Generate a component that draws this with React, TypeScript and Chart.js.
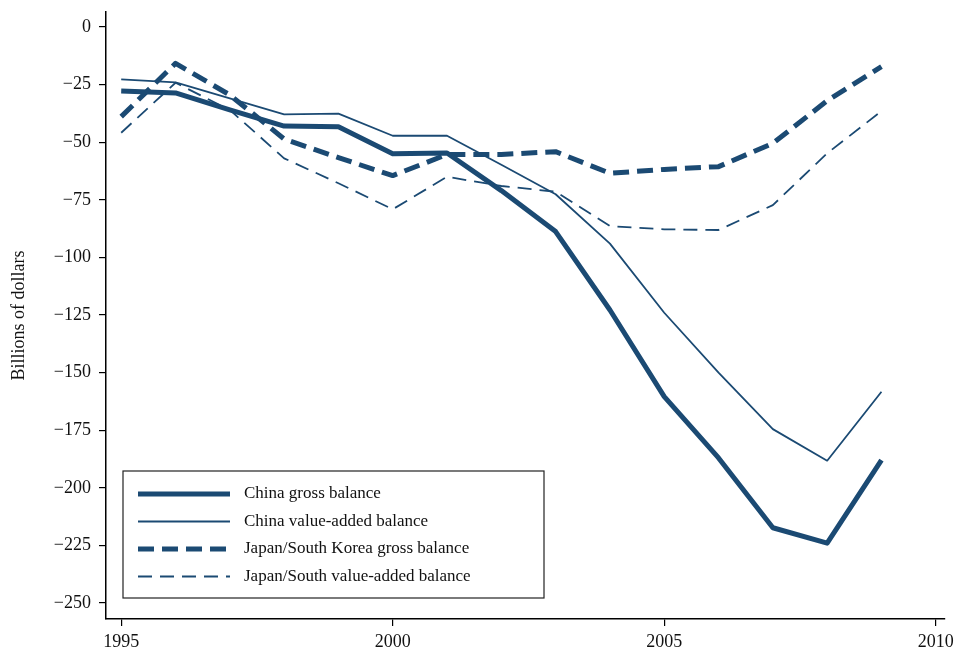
import React, { useEffect, useRef } from "react";
import { Chart, registerables } from "chart.js";

Chart.register(...registerables);

const years = [1995, 1996, 1997, 1998, 1999, 2000, 2001, 2002, 2003, 2004, 2005, 2006, 2007, 2008, 2009];
const chinaGross = [-27.8, -28.6, -36, -43, -43.3, -55, -54.7, -71, -88.8, -122.8, -160.4, -187, -217.3, -224, -188];
const chinaValueAdded = [-22.7, -24, -31, -37.9, -37.6, -47.2, -47.2, -59.8, -72.6, -94, -124, -150, -174.5, -188.2, -158.3];
const japanGross = [-38.9, -15.8, -29.5, -48.6, -56.7, -64.5, -55.3, -55.3, -54.1, -63.5, -61.8, -60.6, -50.5, -32, -17.2];
const japanValueAdded = [-45.9, -24.2, -36, -57, -67.8, -79.1, -65, -69, -71.5, -86.4, -87.8, -88.1, -77.3, -54.8, -36.5];
const seriesLabels = [
  "China gross balance",
  "China value-added balance",
  "Japan/South Korea gross balance",
  "Japan/South value-added balance",
];
const xTicks = [1995, 2000, 2005, 2010];
const yTicks = [0, -25, -50, -75, -100, -125, -150, -175, -200, -225, -250];

const COLOR = "#1b4a73";
const FONT = "'Liberation Serif', 'DejaVu Serif', serif";

const legendPlugin = {
  id: "boxLegend",
  afterDraw(chart: any) {
    const ctx = chart.ctx;
    const x = chart.chartArea.left;
    const bx = x + 17;
    const by = 471;
    const bw = 421;
    const bh = 127;
    ctx.save();
    ctx.fillStyle = "#fff";
    ctx.fillRect(bx, by, bw, bh);
    ctx.strokeStyle = "#222";
    ctx.lineWidth = 1.2;
    ctx.strokeRect(bx, by, bw, bh);
    chart.data.datasets.forEach((ds: any, i: number) => {
      const yy = by + 23 + i * 27.5;
      ctx.beginPath();
      ctx.strokeStyle = ds.borderColor;
      ctx.lineWidth = ds.borderWidth;
      ctx.setLineDash(ds.borderDash || []);
      ctx.moveTo(bx + 15, yy);
      ctx.lineTo(bx + 107, yy);
      ctx.stroke();
      ctx.setLineDash([]);
      ctx.fillStyle = "#111";
      ctx.font = `17px ${FONT}`;
      ctx.textBaseline = "middle";
      ctx.textAlign = "left";
      ctx.fillText(ds.label, bx + 121, yy);
    });
    ctx.restore();
  },
};

export default function App() {
  const ref = useRef<HTMLCanvasElement>(null);
  useEffect(() => {
    document.body.style.margin = "0";
    const mk = (label: string, data: number[], w: number, dash: number[]) => ({
      label,
      data: years.map((y, i) => ({ x: y, y: data[i] })),
      borderColor: COLOR,
      backgroundColor: COLOR,
      borderWidth: w,
      borderDash: dash,
      pointRadius: 0,
      tension: 0,
      fill: false,
      borderJoinStyle: "round" as const,
    });
    const chart = new Chart(ref.current!, {
      type: "line",
      data: {
        datasets: [
          mk(seriesLabels[0], chinaGross, 5, []),
          mk(seriesLabels[1], chinaValueAdded, 1.8, []),
          mk(seriesLabels[2], japanGross, 5, [16, 8]),
          mk(seriesLabels[3], japanValueAdded, 1.8, [14, 8]),
        ],
      },
      options: {
        animation: false,
        responsive: false,
        maintainAspectRatio: false,
        layout: { padding: { top: 12, right: 17, left: 0, bottom: 0 } },
        plugins: { legend: { display: false }, tooltip: { enabled: false } },
        scales: {
          x: {
            type: "linear",
            min: 1994.72,
            max: 2010.17,
            afterBuildTicks: (s: any) => {
              s.ticks = xTicks.map((v) => ({ value: v }));
            },
            afterFit: (s: any) => {
              s.height = 33;
              s.paddingLeft = 0;
              s.paddingRight = 0;
            },
            ticks: {
              color: "#111",
              font: { family: FONT, size: 18 },
              padding: 5,
              maxRotation: 0,
              callback: (v: any) => String(v),
            },
            grid: { drawOnChartArea: false, tickLength: 7, color: "#000", lineWidth: 1.2 },
            border: { color: "#000", width: 1.5 },
          },
          y: {
            type: "linear",
            min: -256.9,
            max: 6.5,
            afterBuildTicks: (s: any) => {
              s.ticks = yTicks.map((v) => ({ value: v }));
            },
            afterFit: (s: any) => {
              s.width = 106;
              s.paddingTop = 0;
              s.paddingBottom = 0;
            },
            ticks: {
              color: "#111",
              font: { family: FONT, size: 18 },
              padding: 8,
              callback: (v: any) => (v < 0 ? "\u2212" + Math.abs(v) : String(v)),
            },
            grid: { drawOnChartArea: false, tickLength: 7, color: "#000", lineWidth: 1.2 },
            border: { color: "#000", width: 1.5 },
            title: {
              display: true,
              text: "Billions of dollars",
              color: "#111",
              font: { family: FONT, size: 18 },
              padding: { top: 8, bottom: 0 },
            },
          },
        },
      },
      plugins: [legendPlugin],
    });
    return () => chart.destroy();
  }, []);
  return (
    <div style={{ position: "fixed", left: 0, top: 0, width: 962, height: 652, background: "#fff" }}>
      <canvas ref={ref} width={962} height={652} style={{ width: 962, height: 652 }} />
    </div>
  );
}
